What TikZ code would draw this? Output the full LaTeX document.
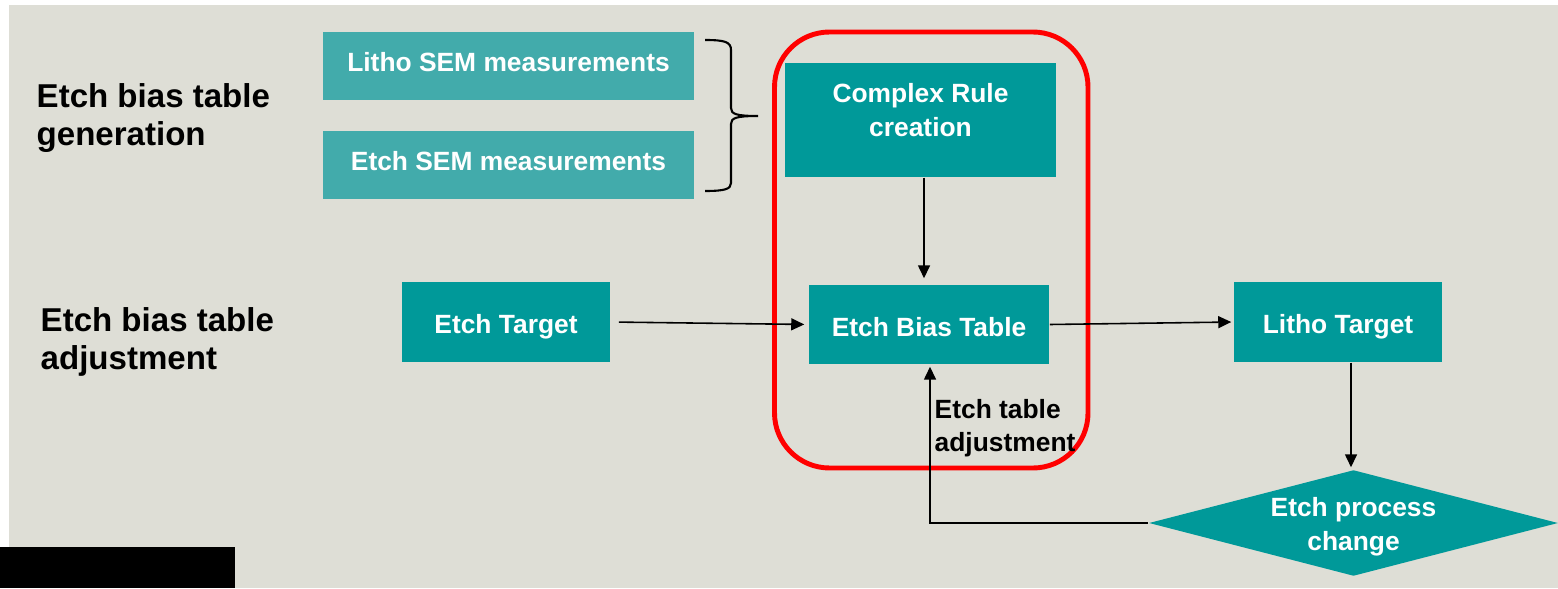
\documentclass[tikz,border=0pt]{standalone}
\usepackage{fontspec}
\setmainfont{Liberation Sans}
\usetikzlibrary{shapes.geometric,arrows.meta}
\definecolor{slidegray}{HTML}{DEDED6}
\definecolor{lightteal}{HTML}{42ABAB}
\definecolor{darkteal}{HTML}{009999}
\tikzset{
  boxtext/.style={text=white, font=\bfseries\fontsize{7.5}{9.9}\selectfont, align=center, inner sep=0pt},
  lightbox/.style={boxtext, fill=lightteal, minimum width=3.71cm, minimum height=0.68cm, text depth=0.08cm},
  darkbox/.style={boxtext, fill=darkteal},
  onebox/.style={darkbox, text height=0.23cm, text depth=0pt},
  sidelabel/.style={font=\bfseries\fontsize{9.4}{10.8}\selectfont, align=left, inner sep=0pt, anchor=north west},
  arr/.style={-{Triangle[length=0.13cm,width=0.12cm]}, line width=0.45pt}
}
\begin{document}
\begin{tikzpicture}[x=0.01cm,y=-0.01cm]
\useasboundingbox (0,0) rectangle (1558,588);
\fill[white] (0,0) rectangle (1558,588);
\fill[slidegray] (9,5) rectangle (1558,588);
\fill[black] (0,547) rectangle (235,588);

\node[sidelabel] (genlabel) at (36,83) {Etch bias table\\generation};
\node[sidelabel] (adjlabel) at (40,306.5) {Etch bias table\\adjustment};

\node[lightbox] (lithosem) at (508.5,66) {Litho SEM measurements};
\node[lightbox] (etchsem) at (508.5,165) {Etch SEM measurements};
% curly brace
\draw[line width=0.6pt] (705,40) .. controls (725,40) and (731,42) .. (731,50) -- (731,108)
  .. controls (731,114) and (736,116) .. (758,116) .. controls (736,116) and (731,118) .. (731,124)
  -- (731,183) .. controls (731,189) and (725,191) .. (705,191);

\draw[red, line width=1.4pt, rounded corners=0.55cm] (774.5,32) rectangle (1088,468);
\node[darkbox, minimum width=2.71cm, minimum height=1.14cm, text depth=0.2cm] (cplxrule) at (920.5,120) {Complex Rule\\creation};
\node[onebox, minimum width=2.40cm, minimum height=0.79cm] (biastable) at (929,324.5) {Etch Bias Table};
\node[onebox, minimum width=2.08cm, minimum height=0.80cm] (etchtarget) at (506,322) {Etch Target};
\node[onebox, minimum width=2.08cm, minimum height=0.80cm] (lithotarget) at (1338,322) {Litho Target};
\node[darkbox, diamond, shape aspect=3.86, minimum width=4.09cm, minimum height=1.06cm] (procchange) at (1353.5,523)
  {\raisebox{-0.096cm}[0pt][0pt]{\begin{tabular}{@{}c@{}}Etch process\\change\end{tabular}}};
\node[sidelabel, font=\bfseries\fontsize{7.5}{9.4}\selectfont] (adjnote) at (934,398.5) {Etch table\\adjustment};

\draw[arr, shorten >=0.06cm] (cplxrule.south -| 924,0) -- (biastable.north -| 924,0);
\draw[arr, shorten <=0.08cm, shorten >=0.04cm] (etchtarget.east) -- (biastable.west);
\draw[arr, shorten >=0.02cm] (biastable.east) -- (lithotarget.west);
\draw[arr, shorten >=0.02cm] (lithotarget.south -| 1351,0) -- (procchange.north -| 1351,0);
\draw[arr, shorten >=0.02cm] (procchange.west) -| (biastable.south -| 930,0);
\end{tikzpicture}
\end{document}
